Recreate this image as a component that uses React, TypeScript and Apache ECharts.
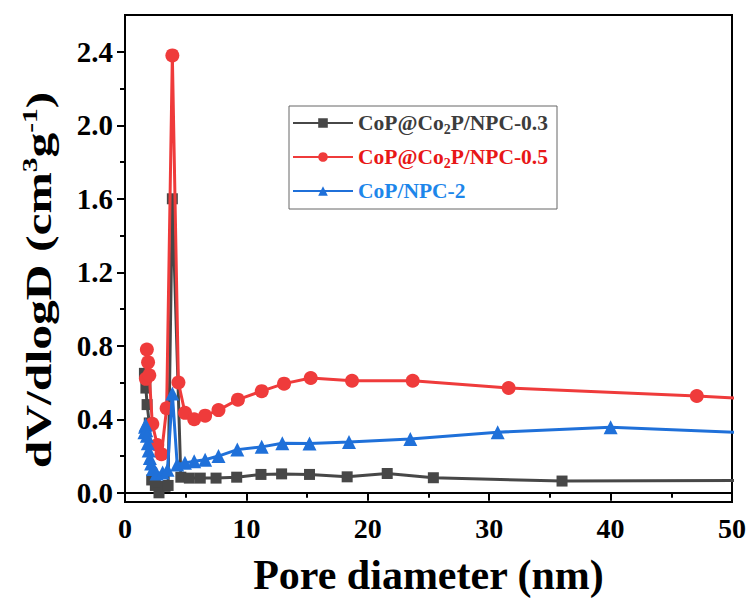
import React, { useEffect, useRef } from "react";
import * as echarts from "echarts";

const FONT = '"Liberation Serif", "Times New Roman", serif';

const seriesNames = ["CoP@Co2P/NPC-0.3", "CoP@Co2P/NPC-0.5", "CoP/NPC-2"];
const seriesColors = ["#474747", "#ef3b3b", "#1f70d9"];
const legendTextColors = ["#3c3c3c", "#e81717", "#1d86ea"];

const xAxisTitle = "Pore diameter (nm)";
const yAxisTitleRich = "{a|dV/dlogD (cm}{p|3}{a|g}{p|-1}{a|)}";

// [pore diameter (nm), dV/dlogD]
const npc03: [number, number][] = [
  [1.6, 0.65], [1.72, 0.57], [1.82, 0.48], [2.0, 0.38], [2.2, 0.07], [2.5, 0.04],
  [2.8, 0.0], [3.3, 0.035], [3.55, 0.04], [3.9, 1.6], [4.6, 0.085], [5.3, 0.08],
  [6.2, 0.08], [7.5, 0.08], [9.2, 0.085], [11.2, 0.1], [12.9, 0.103], [15.2, 0.1],
  [18.3, 0.087], [21.6, 0.105], [25.4, 0.082], [36.0, 0.064], [65, 0.07],
];
const npc05: [number, number][] = [
  [1.72, 0.62], [1.8, 0.78], [1.9, 0.71], [2.0, 0.64], [2.25, 0.375], [2.66, 0.26],
  [3.0, 0.21], [3.43, 0.46], [3.9, 2.38], [4.4, 0.6], [4.94, 0.435], [5.7, 0.4],
  [6.6, 0.42], [7.7, 0.45], [9.3, 0.507], [11.26, 0.553], [13.1, 0.594], [15.3, 0.625],
  [18.7, 0.61], [23.7, 0.61], [31.6, 0.57], [47.1, 0.527], [65, 0.459],
];
const npc2: [number, number][] = [
  [1.6, 0.33], [1.65, 0.36], [1.7, 0.37], [1.75, 0.34], [1.8, 0.31], [1.88, 0.27],
  [1.95, 0.23], [2.05, 0.19], [2.15, 0.16], [2.3, 0.13], [2.6, 0.105], [3.1, 0.11],
  [3.5, 0.125], [3.9, 0.54], [4.3, 0.154], [4.94, 0.163], [5.7, 0.172], [6.6, 0.18],
  [7.7, 0.2], [9.25, 0.235], [11.26, 0.25], [12.96, 0.27], [15.2, 0.268], [18.45, 0.277],
  [23.5, 0.293], [30.7, 0.33], [40.0, 0.357], [65, 0.29],
];
const seriesData = [npc03, npc05, npc2];
const symbols = ["rect", "circle", "triangle"];
const symbolSizes = [11, 14, 14];

const yTickLabels = [0, 0.4, 0.8, 1.2, 1.6, 2.0, 2.4];
const yMinorTicks = [0.2, 0.6, 1.0, 1.4, 1.8, 2.2];

export default function App() {
  const ref = useRef<HTMLDivElement>(null);
  useEffect(() => {
    const chart = echarts.init(ref.current!, null, { renderer: "svg" });
    const axisLineStyle = { color: "#000", width: 2 };
    chart.setOption({
      animation: false,
      backgroundColor: "#fff",
      grid: {
        left: 125, right: 21, top: 15, bottom: 97,
        show: true, borderColor: "#000", borderWidth: 2, backgroundColor: "transparent",
      },
      legend: {
        orient: "vertical",
        left: 289,
        top: 106,
        itemWidth: 60,
        itemHeight: 12,
        itemGap: 10,
        padding: [6, 9, 7, 3],
        borderColor: "#666",
        borderWidth: 1,
        textStyle: {
          fontFamily: FONT, fontSize: 21.5, fontWeight: "bold",
          rich: {
            n: { fontFamily: FONT, fontSize: 21.5, fontWeight: "bold", lineHeight: 26 },
            s: { fontFamily: FONT, fontSize: 14, fontWeight: "bold", lineHeight: 12, verticalAlign: "bottom" },
          },
        },
        formatter: (name: string) => {
          const i = name.indexOf("Co2P");
          if (i < 0) return `{n|${name}}`;
          return `{n|${name.slice(0, i)}Co}{s|2}{n|${name.slice(i + 3)}}`;
        },
        data: seriesNames.map((n, i) => ({ name: n, textStyle: { color: legendTextColors[i] } })),
      },
      graphic: [
        {
          type: "text",
          x: 39,
          y: 280,
          rotation: Math.PI / 2,
          scaleX: 1.34,
          scaleY: 0.97,
          style: {
            text: yAxisTitleRich,
            align: "center",
            verticalAlign: "middle",
            fill: "#000",
            fontFamily: FONT,
            fontSize: 37,
            fontWeight: "bold",
            rich: {
              a: { fontFamily: FONT, fontSize: 37, fontWeight: "bold", fill: "#000", lineHeight: 40 },
              p: { fontFamily: FONT, fontSize: 22, fontWeight: "bold", fill: "#000", lineHeight: 22, verticalAlign: "top" },
            },
          },
        },
      ],
      xAxis: {
        type: "value", min: 0, max: 50, interval: 10,
        axisLine: { show: true, lineStyle: axisLineStyle },
        axisTick: { show: true, length: 8, lineStyle: axisLineStyle },
        minorTick: { show: true, splitNumber: 2, length: 5, lineStyle: axisLineStyle },
        splitLine: { show: false },
        axisLabel: { fontFamily: FONT, fontSize: 28, fontWeight: "bold", color: "#000", margin: 12 },
        name: xAxisTitle,
        nameLocation: "middle",
        nameGap: 52,
        nameTextStyle: { fontFamily: FONT, fontSize: 42, fontWeight: "bold", color: "#000" },
      },
      yAxis: [
        {
          type: "value", min: -0.05, max: 2.6, position: "left",
          axisLine: { show: true, lineStyle: axisLineStyle },
          axisTick: { show: true, length: 8, lineStyle: axisLineStyle, customValues: yTickLabels },
          splitLine: { show: false },
          axisLabel: {
            customValues: yTickLabels,
            formatter: (v: number) => v.toFixed(1),
            fontFamily: FONT, fontSize: 29, fontWeight: "bold", color: "#000", margin: 12,
          },
        },
        {
          type: "value", min: -0.05, max: 2.6, position: "left",
          axisLine: { show: false },
          axisTick: { show: true, length: 5, lineStyle: axisLineStyle, customValues: yMinorTicks },
          axisLabel: { show: false },
          splitLine: { show: false },
        },
      ],
      series: seriesNames.map((name, i) => ({
        name,
        type: "line",
        data: seriesData[i],
        symbol: symbols[i],
        symbolSize: symbolSizes[i],
        clip: true,
        lineStyle: { color: seriesColors[i], width: 3 },
        itemStyle: { color: seriesColors[i] },
        z: 2 + i,
      })),
    });
    return () => chart.dispose();
  }, []);
  return <div ref={ref} style={{ position: "absolute", left: 0, top: 0, width: 753, height: 601 }} />;
}
